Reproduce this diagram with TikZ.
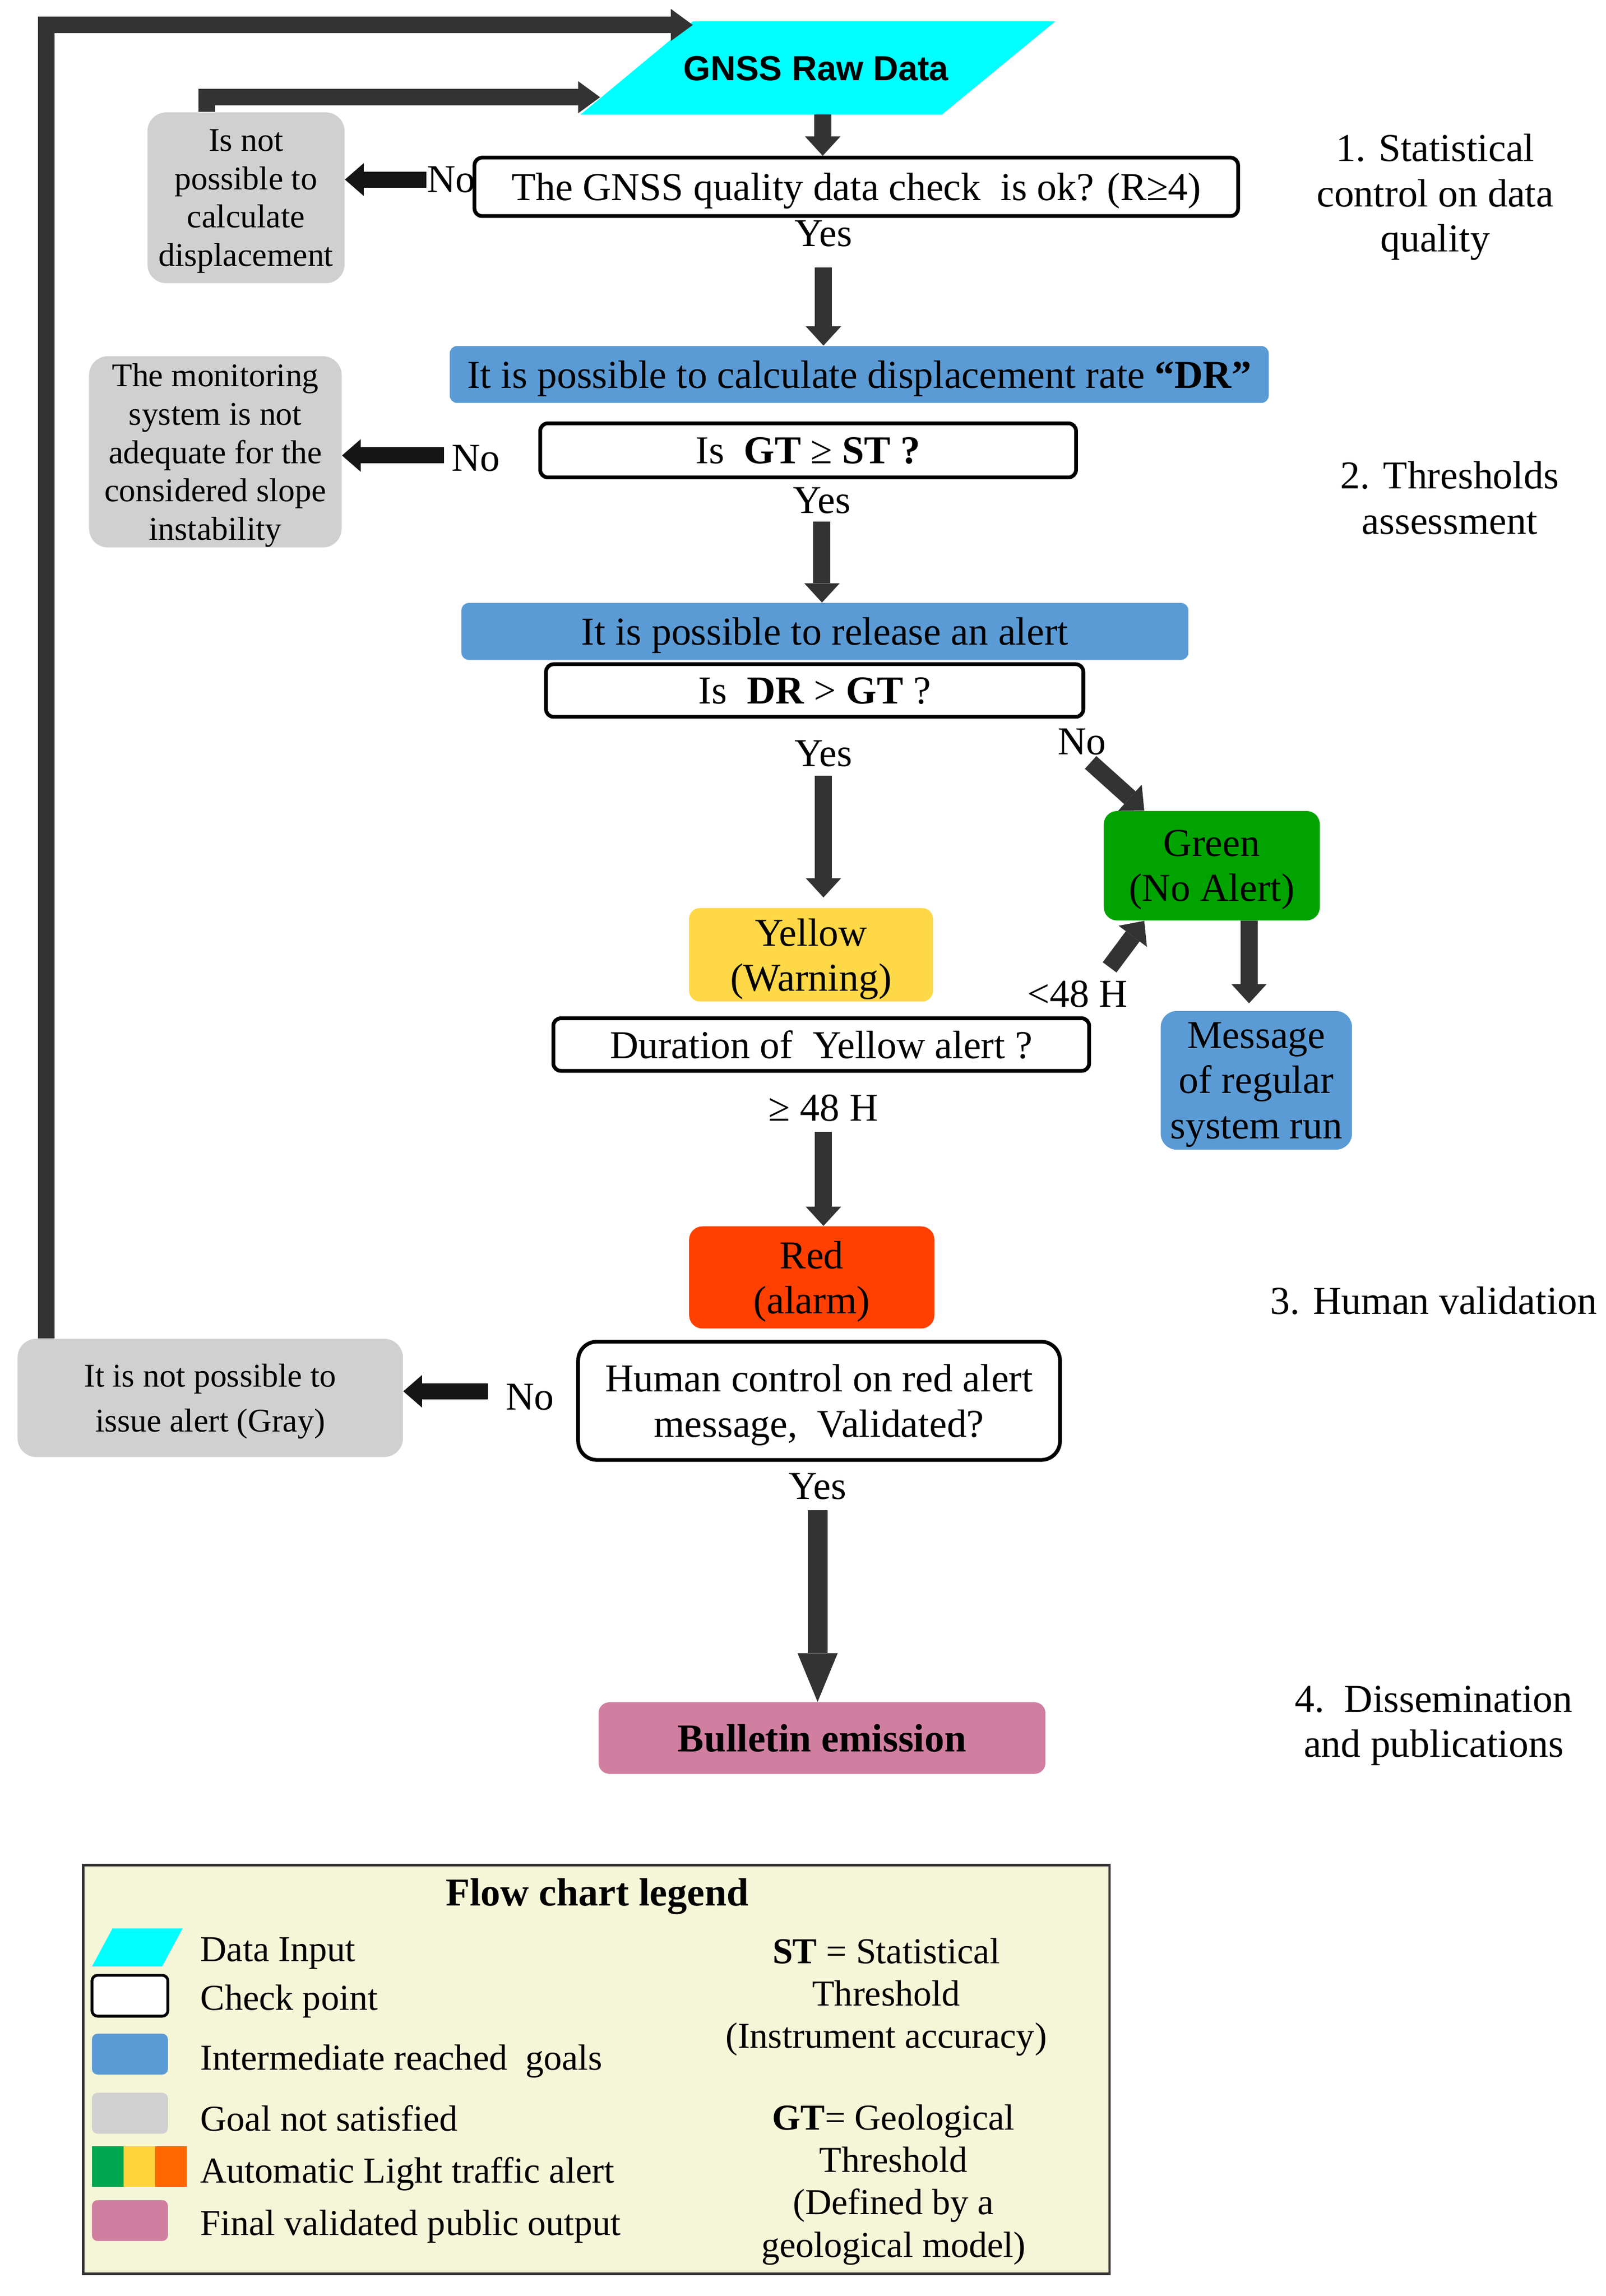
\documentclass[tikz,border=0pt]{standalone}
\usepackage{fontspec}
\setmainfont{Liberation Serif}
\newfontfamily\gsans{Liberation Sans}
\usetikzlibrary{arrows.meta}
\newcommand\pxu{0.02729cm}
\newcommand\fmain{\fontsize{21}{24}\selectfont}
\newcommand\fgrayA{\fontsize{17.6}{20.4}\selectfont}
\newcommand\fgrayB{\fontsize{17.6}{24}\selectfont}
\newcommand\fleg{\fontsize{19.4}{22.5}\selectfont}
\definecolor{cyanc}{HTML}{00FFFF}
\definecolor{bluec}{HTML}{5B9BD5}
\definecolor{grayc}{HTML}{D0D0D0}
\definecolor{greenc}{HTML}{00A300}
\definecolor{yellowc}{HTML}{FFD847}
\definecolor{redc}{HTML}{FF4000}
\definecolor{pinkc}{HTML}{D17FA0}
\definecolor{legbg}{HTML}{F5F5D8}
\definecolor{arrowc}{HTML}{333333}
\definecolor{noc}{HTML}{151515}
\definecolor{lgreen}{HTML}{00A650}
\definecolor{lyellow}{HTML}{FFD43B}
\definecolor{lorange}{HTML}{FF6600}
\begin{document}
\begin{tikzpicture}[x=\pxu, y=-\pxu,
  base/.style={inner sep=0pt, align=center, font=\fmain, text depth=0pt},
  chk/.style={base, draw=black, line width=2pt, fill=white, rounded corners=4pt},
  goal/.style={base, fill=bluec, rounded corners=4pt},
  fail/.style={base, fill=grayc, rounded corners=10pt},
  lab/.style={inner sep=0pt, align=center, font=\fmain},
  legtxt/.style={inner sep=0pt, font=\fleg, anchor=west},
  swatch/.style={inner sep=0pt, minimum width=52*\pxu, minimum height=28*\pxu, rounded corners=3pt},
  arr/.style={draw=arrowc, line width=0.32cm, -{Triangle[width=0.66cm,length=0.36cm,line width=0pt]}},
  noarr/.style={draw=noc, line width=0.30cm, -{Triangle[width=0.61cm,length=0.35cm,line width=0pt]}},
  looparr/.style={draw=arrowc, line width=0.31cm, line join=miter, -{Triangle[width=0.60cm,length=0.41cm,line width=0pt]}},
  bigarr/.style={draw=arrowc, line width=0.37cm, -{Triangle[width=0.75cm,length=0.91cm,line width=0pt]}}
]
\useasboundingbox (0,0) rectangle (1100,1572.7);

% GNSS parallelogram
\fill[cyanc] (397.5,78.6) -- (645,78.6) -- (722.7,14.7) -- (474.5,14.7) -- cycle;
\node[lab, font=\gsans\bfseries\fontsize{18.5}{22}\selectfont] (gnss) at (559,47) {GNSS Raw Data};
\coordinate (gnssB) at (563.5,78.6);
\coordinate (gnssTL) at (474.5,17.1);
\coordinate (gnssL) at (411,66.6);

% step 1
\node[chk, minimum width=523*\pxu, minimum height=40*\pxu] (c1) at (586.5,128) {The GNSS quality data check\ \ is ok? (R≥4)};
\node[fail, font=\fgrayA, minimum width=135*\pxu, minimum height=117*\pxu] (g1) at (168.5,135.5) {Is not\\possible to\\calculate\\displacement};
\node[lab] (n1) at (309,123) {No};
\node[lab] (y1) at (564,160) {Yes};

% step 2
\node[goal, minimum width=561*\pxu, minimum height=39*\pxu] (b1) at (588.5,256.5) {It is possible to calculate displacement rate \textbf{“DR”}};
\node[chk, minimum width=367*\pxu, minimum height=37*\pxu] (c2) at (553.5,308.5) {Is\ \ \textbf{GT} ≥ \textbf{ST ?}};
\node[lab] (n2) at (326,314) {No};
\node[fail, font=\fgrayA, minimum width=173*\pxu, minimum height=131*\pxu] (g2) at (147.5,309.5) {The monitoring\\system is not\\adequate for the\\considered slope\\instability};
\node[lab] (y2) at (563,343) {Yes};
\node[goal, minimum width=498*\pxu, minimum height=39*\pxu] (b2) at (565,432.5) {It is possible to release an alert};
\node[chk, minimum width=368*\pxu, minimum height=36*\pxu] (c3) at (558,473) {Is\ \ \textbf{DR} > \textbf{GT} ?};
\node[lab] (y3) at (564,516) {Yes};
\node[lab] (n3) at (741,508) {No};
\node[base, fill=greenc, rounded corners=0.25cm, minimum width=148*\pxu, minimum height=75*\pxu] (gr) at (830,593) {Green\\(No Alert)};
\node[base, fill=yellowc, rounded corners=0.2cm, minimum width=167*\pxu, minimum height=64*\pxu] (ye) at (555.5,654) {Yellow\\(Warning)};
\node[lab] (lt) at (738,681) {<48 H};
\node[goal, rounded corners=0.3cm, minimum width=131*\pxu, minimum height=95*\pxu] (msg) at (860.5,740) {Message\\of regular\\system run};
\node[chk, minimum width=367*\pxu, minimum height=36*\pxu] (c4) at (562.5,715.5) {Duration of\ \ Yellow alert ?};
\node[lab] (ge) at (564,759) {≥ 48 H};

% step 3
\node[base, fill=redc, rounded corners=0.25cm, minimum width=168*\pxu, minimum height=70*\pxu] (rd) at (556,875) {Red\\(alarm)};
\node[chk, rounded corners=0.35cm, minimum width=330*\pxu, minimum height=81*\pxu] (c5) at (561,959.5) {Human control on red alert\\message,\ \ Validated?};
\node[lab] (n5) at (363,957) {No};
\node[fail, font=\fgrayB, minimum width=264*\pxu, minimum height=81*\pxu] (g3) at (144,957.5) {It is not possible to\\issue alert (Gray)};
\node[lab] (y5) at (560,1018) {Yes};

% step 4
\node[base, fill=pinkc, rounded corners=0.2cm, minimum width=306*\pxu, minimum height=49*\pxu, font=\fmain\bfseries] (pk) at (563,1190.5) {Bulletin emission};

% side labels
\node[lab] (s1) at (983,135) {1. Statistical\\control on data\\quality};
\node[lab] (s2) at (993,341) {2. Thresholds\\assessment};
\node[lab] (s3) at (982,891) {3. Human validation};
\node[lab] (s4) at (982,1182) {4.\ \ Dissemination\\and publications};

% connectors
\draw[arr] (gnssB) -- (c1.north -| gnssB);
\draw[noarr] (n1.west) -- (g1.east |- n1.west);
\draw[arr] ([yshift=-14*\pxu]y1.south) -- (b1.north -| y1.south);
\coordinate (n2a) at ([xshift=-5*\pxu, yshift=2*\pxu]n2.west);
\draw[noarr] (n2a) -- (g2.east |- n2a);
\draw[arr] ([yshift=-5*\pxu]y2.south) -- (b2.north -| y2.south);
\draw[arr, shorten >=7*\pxu] ([yshift=-6*\pxu]y3.south) -- (ye.north -| y3.south);
\draw[arr] ([xshift=6*\pxu, yshift=-5*\pxu]n3.south) -- ([xshift=28*\pxu]gr.north west);
\draw[arr] ([xshift=22*\pxu, yshift=9*\pxu]lt.north) -- ([xshift=28*\pxu]gr.south west);
\coordinate (gm) at ([xshift=25.5*\pxu]gr.south);
\draw[arr, shorten >=5*\pxu] (gm) -- (gm |- msg.north);
\draw[arr] ([yshift=-7*\pxu]ge.south) -- (rd.north -| ge.south);
\coordinate (n5a) at ([xshift=-12*\pxu, yshift=4*\pxu]n5.west);
\draw[noarr] (n5a) -- (g3.east |- n5a);
\draw[bigarr] ([yshift=-7*\pxu]y5.south) -- (pk.north -| y5.south);
\draw[looparr] ([xshift=20*\pxu]g3.north west) |- (gnssTL);
\draw[looparr] ([xshift=41*\pxu]g1.north west) |- (gnssL);

% legend
\node[draw=arrowc, line width=1.3pt, fill=legbg, minimum width=703*\pxu, minimum height=280*\pxu, inner sep=0pt] (leg) at (408.5,1417.5) {};
\node[lab, font=\fmain\bfseries] (legt) at (409,1299) {Flow chart legend};
\fill[cyanc] (63,1347) -- (111,1347) -- (125,1321) -- (77,1321) -- cycle;
\node[swatch, draw=black, line width=1.5pt, fill=white] (lw) at (89,1367) {};
\node[swatch, fill=bluec] (lb) at (89,1407) {};
\node[swatch, fill=grayc] (lg) at (89,1447.5) {};
\fill[lgreen] (63,1470) rectangle (84.7,1498);
\fill[lyellow] (84.7,1470) rectangle (106.3,1498);
\fill[lorange] (106.3,1470) rectangle (128,1498);
\node[swatch, fill=pinkc] (lp) at (89,1521) {};
\node[legtxt] (t1) at (137,1338) {Data Input};
\node[legtxt] (t2) at (137,1371) {Check point};
\node[legtxt] (t3) at (137,1412) {Intermediate reached\ \ goals};
\node[legtxt] (t4) at (137,1451) {Goal not satisfied};
\node[legtxt] (t5) at (137,1489) {Automatic Light traffic alert};
\node[legtxt] (t6) at (137,1525) {Final validated public output};
\node[lab, font=\fleg] (lst) at (607,1368) {\textbf{ST} = Statistical\\Threshold\\(Instrument accuracy)};
\node[lab, font=\fleg] (lgt) at (612,1496.5) {\textbf{GT}= Geological\\Threshold\\(Defined by a\\geological model)};
\end{tikzpicture}
\end{document}
